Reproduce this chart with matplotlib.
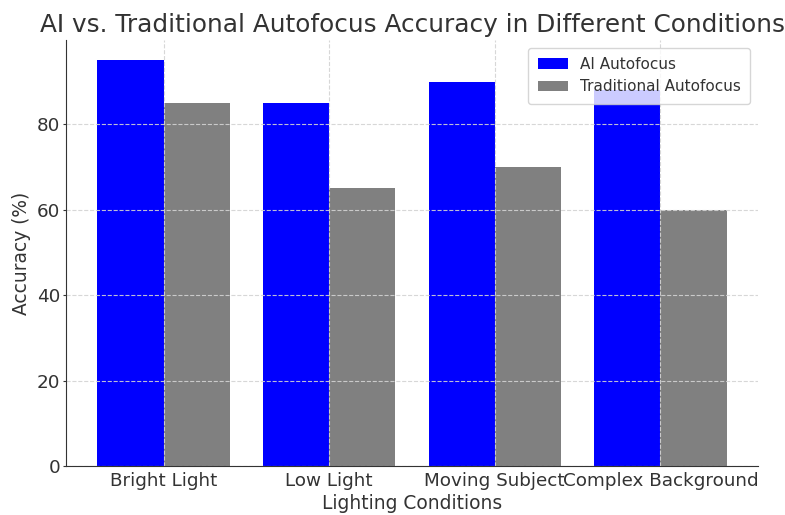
import numpy as np
import matplotlib.pyplot as plt

conditions = ['Bright Light', 'Low Light', 'Moving Subject', 'Complex Background']
ai_accuracy = [95, 85, 90, 88]
traditional_accuracy = [85, 65, 70, 60]

dark = '#333333'
plt.rcParams['text.color'] = dark
plt.rcParams['axes.labelcolor'] = dark
plt.rcParams['xtick.color'] = dark
plt.rcParams['ytick.color'] = dark

fig = plt.figure(figsize=(7.85, 5.15), dpi=100)
ax = fig.add_axes([66/785, 49/515, 692/785, 426/515])

x = np.arange(len(conditions))
width = 0.4

ax.bar(x - width/2, ai_accuracy, width, label='AI Autofocus', color='blue')
ax.bar(x + width/2, traditional_accuracy, width, label='Traditional Autofocus', color='gray')

ax.set_title('AI vs. Traditional Autofocus Accuracy in Different Conditions', fontsize=17.8, pad=6)
ax.set_xlabel('Lighting Conditions', fontsize=13.4, labelpad=3)
ax.set_ylabel('Accuracy (%)', fontsize=13.4, labelpad=4)
ax.set_xticks(x)
ax.set_xticklabels(conditions, fontsize=13.2)
ax.tick_params(axis='y', labelsize=13.2, length=2, pad=2)
ax.tick_params(axis='x', length=0, pad=4)

ax.grid(True, linestyle='--', color='lightgray', linewidth=0.8, alpha=0.9)

ax.spines['right'].set_visible(False)
ax.spines['top'].set_visible(False)
ax.spines['left'].set_color(dark)
ax.spines['bottom'].set_color(dark)

ax.legend(fontsize=11, borderpad=0.6)

fig.savefig('out.png', dpi=100)
